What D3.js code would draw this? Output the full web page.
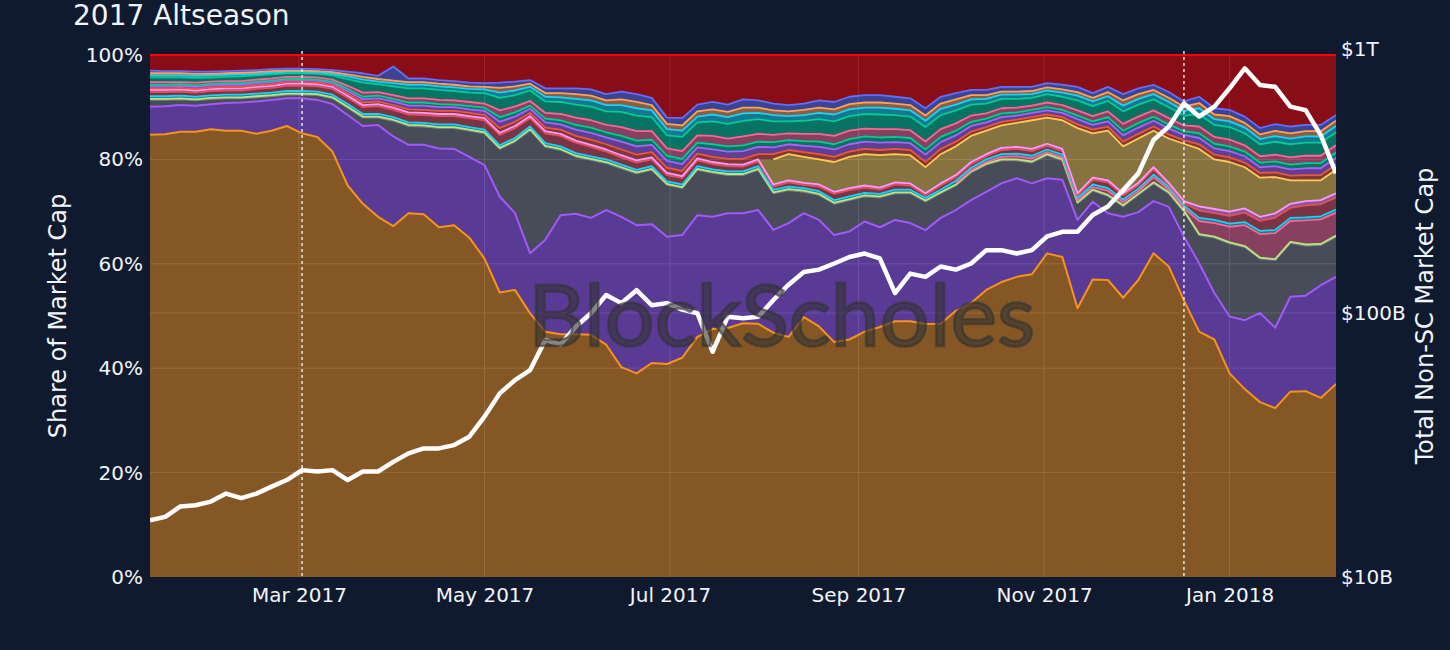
<!DOCTYPE html>
<html><head><meta charset="utf-8">
<script src="https://cdn.jsdelivr.net/npm/d3@7"></script>
<style>
html,body{margin:0;padding:0;background:#101a2e;}
svg{display:block;}
text{font-family:"DejaVu Sans",Verdana,sans-serif;}
</style></head><body>
<svg id="chart" width="1450" height="650"></svg>
<script>
// ---------------- DATA ----------------
const startDate = "2017-01-11";
const stepDays = 5;

const btcShare = [
84.7,84.8,85.3,85.3,85.5,85.5,85.5,84.9,85.5,86.4,
85.0,84.3,81.5,75.0,71.5,69.0,67.2,69.7,69.5,67.0,
67.4,65.0,61.0,54.5,55.0,50.5,47.0,46.5,46.5,46.4,
44.5,40.2,39.0,41.0,40.8,42.0,46.0,47.5,47.7,48.6,
48.5,46.8,46.0,49.8,48.0,45.0,45.5,47.0,47.9,49.0,
49.0,48.5,48.5,51.0,52.5,55.0,56.5,57.5,58.0,62.0,
61.3,51.5,57.0,56.9,53.5,56.9,62.0,59.5,53.0,47.0,
45.5,39.0,36.0,33.5,32.5,35.5,35.6,34.3,37.0];

const ethShare = [
5.4,5.4,5.1,5.0,4.8,5.3,5.4,6.2,5.9,5.3,
6.7,7.1,9.1,13.5,14.9,17.6,17.2,13.1,13.3,15.1,
14.6,15.5,17.9,18.4,14.7,11.5,17.6,22.8,23.1,22.4,
25.8,28.8,28.4,26.6,24.4,23.5,23.3,21.5,22.0,21.1,
21.8,19.7,21.8,19.9,20.4,20.5,20.7,21.1,19.1,19.4,
18.8,18.0,20.3,19.3,19.7,18.8,18.9,18.9,17.4,14.4,
14.8,16.9,14.9,12.8,15.5,13.0,10.0,11.4,12.2,13.1,
8.9,10.9,13.2,17.1,15.5,18.2,18.3,21.6,20.5];

const xrpShare = [
1.3,1.2,1.1,1.0,1.0,0.9,0.8,0.8,0.7,0.7,
0.7,0.9,1.1,1.4,1.6,1.4,3.0,3.6,3.5,3.9,
4.0,5.0,6.1,9.1,13.7,23.6,17.8,12.5,10.9,11.1,
9.0,9.3,9.9,10.4,9.9,9.0,8.7,8.4,7.3,7.3,
7.7,7.0,6.3,4.1,4.8,6.0,6.0,4.8,5.7,5.1,
5.7,5.5,4.7,4.7,5.3,5.2,4.4,3.4,4.0,4.4,
3.7,3.2,2.1,3.3,2.0,3.3,3.4,2.6,4.8,5.4,
10.6,14.0,14.0,10.4,13.0,10.3,9.6,7.7,7.7];

const altLimeShare = [
0.2,0.2,0.2,0.2,0.2,0.2,0.2,0.2,0.2,0.2,
0.2,0.2,0.2,0.2,0.2,0.2,0.2,0.2,0.2,0.2,
0.2,0.2,0.2,0.2,0.2,0.2,0.2,0.2,0.2,0.2,
0.2,0.2,0.2,0.2,0.2,0.2,0.2,0.2,0.2,0.2,
0.2,0.2,0.2,0.2,0.2,0.2,0.2,0.2,0.2,0.2,
0.2,0.2,0.2,0.2,0.2,0.2,0.2,0.2,0.2,0.2,
0.2,0.2,0.2,0.2,0.2,0.2,0.2,0.2,0.2,0.2,
0.2,0.2,0.2,0.2,0.2,0.2,0.2,0.2,0.2];

const adaShare = [
null,null,null,null,null,null,null,null,null,null,
null,null,null,null,null,null,null,null,null,null,
null,null,null,null,null,null,null,null,null,null,
null,null,null,null,null,null,null,null,null,null,
null,null,null,null,null,null,null,null,null,null,
null,null,null,0.2,0.2,0.3,0.5,0.6,0.6,0.4,
0.4,0.3,0.5,0.8,0.6,0.5,1.0,0.5,0.5,2.5,
2.6,3.0,4.0,4.5,5.0,4.0,4.6,4.7,4.4];

const altCyanShare = [
0.5,0.5,0.5,0.5,0.5,0.5,0.5,0.5,0.5,0.5,
0.5,0.5,0.5,0.5,0.5,0.5,0.5,0.5,0.5,0.5,
0.5,0.5,0.5,0.5,0.5,0.5,0.5,0.5,0.5,0.5,
0.5,0.5,0.5,0.5,0.5,0.5,0.5,0.5,0.5,0.5,
0.5,0.5,0.5,0.5,0.5,0.5,0.5,0.5,0.5,0.5,
0.5,0.5,0.5,0.5,0.5,0.5,0.5,0.5,0.5,0.5,
0.5,0.5,0.5,0.5,0.5,0.5,0.5,0.5,0.5,0.6,
0.6,0.6,0.6,0.6,0.6,0.6,0.6,0.6,0.6];

const ltcShare = [
0.8,0.8,0.8,0.8,0.8,0.8,0.8,0.9,0.9,1.0,
1.0,1.0,1.1,1.2,1.3,1.5,1.4,1.5,1.5,1.6,
1.6,1.7,1.8,2.0,1.9,1.6,1.9,2.0,2.0,1.8,
1.5,1.4,1.4,1.3,1.2,1.2,1.1,1.0,1.0,0.9,
0.9,0.6,0.8,0.6,0.9,1.2,1.2,1.0,0.8,1.0,
0.8,0.5,0.8,0.7,0.7,0.6,0.8,0.9,0.9,0.7,
0.7,0.5,0.9,1.1,0.8,0.7,1.0,0.4,0.4,1.4,
1.3,1.5,1.8,1.9,2.4,1.9,2.3,2.3,2.3];

const altMagentaShare = [
0.4,0.4,0.4,0.4,0.4,0.4,0.4,0.4,0.4,0.4,
0.4,0.4,0.4,0.4,0.4,0.4,0.4,0.4,0.4,0.4,
0.4,0.4,0.4,0.4,0.4,0.4,0.4,0.4,0.4,0.4,
0.4,0.4,0.4,0.4,0.4,0.4,0.4,0.4,0.4,0.4,
0.4,0.4,0.4,0.4,0.4,0.4,0.4,0.4,0.4,0.4,
0.4,0.4,0.4,0.4,0.4,0.4,0.4,0.4,0.4,0.4,
0.4,0.4,0.4,0.4,0.4,0.4,0.4,0.4,0.4,0.8,
0.8,0.8,0.8,0.8,0.8,0.8,0.8,0.8,0.8];

const bchShare = [
null,null,null,null,null,null,null,null,null,null,
null,null,null,null,null,null,null,null,null,null,
null,null,null,null,null,null,null,null,null,null,
null,null,null,null,null,null,null,null,null,null,
null,4.8,5.0,5.0,4.8,5.7,6.0,6.0,6.2,5.4,
5.4,5.0,5.6,5.5,5.0,4.5,4.3,4.6,5.5,5.0,
5.5,12.5,8.5,9.5,9.0,8.5,7.0,8.5,11.0,11.0,
9.5,9.5,7.9,7.5,7.0,4.5,4.0,3.8,4.5];

const alt1Share = [
0.3,0.3,0.3,0.3,0.3,0.3,0.3,0.3,0.3,0.3,
0.3,0.3,0.3,0.4,0.5,0.5,0.5,0.6,0.6,0.6,
0.6,0.6,0.6,0.9,0.8,0.6,0.7,0.8,0.9,1.0,
1.0,1.1,1.1,1.0,1.0,1.0,0.9,1.0,1.0,1.1,
1.0,1.0,0.8,0.9,1.0,1.0,1.0,1.0,1.0,1.0,
1.0,1.0,1.0,0.9,0.8,0.7,0.7,0.6,0.6,0.6,
0.6,0.7,0.7,0.8,0.9,0.9,0.8,0.8,0.7,0.9,
0.9,0.9,0.9,0.9,0.9,0.9,1.0,1.0,1.0];

const alt2Share = [
0.3,0.3,0.3,0.3,0.3,0.3,0.3,0.3,0.3,0.2,
0.2,0.2,0.3,0.4,0.5,0.5,0.5,0.6,0.6,0.6,
0.5,0.6,0.6,0.9,0.8,0.6,0.7,0.8,0.9,1.0,
1.0,1.1,1.1,1.0,1.0,1.0,0.9,1.0,1.0,1.1,
1.0,1.0,0.8,0.9,1.0,1.0,1.0,1.0,1.0,1.0,
1.0,1.0,1.0,0.9,0.8,0.7,0.7,0.6,0.6,0.6,
0.6,0.7,0.7,0.8,0.9,0.9,0.8,0.8,0.7,0.9,
0.9,0.9,0.9,0.9,0.9,0.9,1.0,1.0,1.0];

const alt3Share = [
0.4,0.4,0.4,0.4,0.4,0.4,0.4,0.4,0.4,0.4,
0.4,0.4,0.4,0.5,0.6,0.6,0.7,0.7,0.8,0.7,
0.7,0.7,0.8,1.2,1.0,0.8,1.0,1.0,1.2,1.3,
1.3,1.5,1.6,1.4,1.3,1.3,1.2,1.4,1.4,1.5,
1.4,1.3,1.1,1.2,1.4,1.4,1.4,1.4,1.4,1.3,
1.3,1.4,1.3,1.2,1.1,0.9,0.9,0.8,0.8,0.8,
0.8,1.0,0.9,1.0,1.2,1.2,1.1,1.1,1.0,1.2,
1.2,1.2,1.2,1.1,1.2,1.2,1.3,1.3,1.3];

const alt4Share = [
0.4,0.4,0.4,0.4,0.4,0.4,0.4,0.3,0.3,0.3,
0.3,0.3,0.3,0.5,0.6,0.5,0.6,0.7,0.7,0.7,
0.7,0.7,0.7,1.0,0.9,0.7,0.9,0.9,1.1,1.2,
1.2,1.3,1.4,1.3,1.2,1.2,1.1,1.3,1.3,1.4,
1.2,1.2,1.0,1.1,1.2,1.3,1.3,1.2,1.3,1.2,
1.2,1.2,1.2,1.1,1.0,0.9,0.8,0.8,0.7,0.7,
0.8,0.9,0.9,0.9,1.1,1.1,1.0,1.0,0.9,1.1,
1.1,1.1,1.1,1.0,1.1,1.1,1.2,1.2,1.2];

const alt5Share = [
0.5,0.5,0.4,0.5,0.4,0.4,0.4,0.4,0.4,0.4,
0.4,0.4,0.4,0.6,0.8,0.7,0.7,0.8,0.8,0.8,
0.8,0.8,0.8,1.3,1.1,0.9,1.1,1.2,1.4,1.4,
1.4,1.7,1.8,1.6,1.4,1.5,1.4,1.6,1.5,1.7,
1.5,1.4,1.3,1.4,1.5,1.6,1.6,1.5,1.6,1.5,
1.5,1.5,1.5,1.4,1.2,1.0,1.0,0.9,0.8,0.9,
0.9,1.0,1.0,1.1,1.3,1.2,1.2,1.2,1.1,1.3,
1.3,1.3,1.2,1.2,1.3,1.4,1.4,1.4,1.4];

const alt6Share = [
0.9,0.9,0.9,0.9,0.8,0.8,0.9,0.8,0.8,0.7,
0.7,0.7,0.8,1.3,1.9,1.5,1.7,1.9,1.9,1.9,
1.8,1.8,2.0,2.4,2.2,2.0,2.2,2.3,2.5,2.6,
2.6,2.9,3.0,2.7,2.5,2.7,2.5,2.8,2.8,3.0,
2.8,2.6,2.3,2.5,2.8,2.8,2.8,2.8,2.8,2.7,
2.6,2.8,2.7,2.5,2.1,1.9,1.8,1.7,1.5,1.6,
1.6,1.9,1.9,2.0,2.4,2.3,2.1,2.1,1.9,2.4,
2.3,2.4,2.3,2.3,2.5,2.5,2.5,2.5,2.5];

const alt7Share = [
0.4,0.4,0.4,0.4,0.3,0.3,0.3,0.3,0.3,0.2,
0.2,0.2,0.3,0.4,0.5,0.5,0.5,0.5,0.5,0.5,
0.5,0.5,0.5,0.9,0.8,0.6,0.7,0.8,0.9,0.9,
0.9,1.1,1.2,1.0,1.0,1.0,1.0,1.0,1.0,1.1,
1.0,0.9,0.9,1.0,1.0,1.0,1.0,1.0,1.0,1.0,
1.0,1.0,1.0,1.0,0.8,0.7,0.6,0.6,0.6,0.6,
0.6,0.7,0.7,0.8,1.0,0.9,0.8,0.8,0.8,1.0,
0.9,1.0,0.9,0.9,1.0,1.0,1.0,1.0,1.0];

const alt8Share = [
0.5,0.4,0.4,0.4,0.4,0.4,0.4,0.4,0.4,0.4,
0.4,0.4,0.4,0.5,0.7,0.6,2.7,0.7,0.7,0.7,
0.7,0.7,0.7,1.0,0.9,0.7,0.9,0.9,1.1,1.2,
1.2,1.5,1.5,1.4,1.2,1.4,1.3,1.4,1.4,1.6,
1.4,1.3,1.2,1.2,1.4,1.4,1.4,1.4,1.4,1.3,
1.3,1.4,1.3,1.2,1.0,1.0,0.9,0.9,0.8,0.8,
0.9,1.0,0.9,1.0,1.2,1.1,1.0,1.1,1.0,1.2,
1.2,1.2,1.2,1.2,1.3,1.3,1.2,1.2,1.1];

const othersShare = [
3.0,3.1,3.1,3.2,3.2,3.1,3.0,2.9,2.7,2.6,
2.6,2.7,2.9,3.2,3.5,4.0,2.2,4.5,4.5,4.8,
5.0,5.3,5.4,5.3,5.1,4.8,6.4,6.4,6.4,6.6,
7.5,7.0,7.5,8.2,12.0,12.1,9.5,9.0,9.5,8.5,
8.7,9.3,9.6,9.3,8.7,9.0,8.0,7.7,7.7,8.0,
8.3,10.2,8.0,7.3,6.7,6.7,6.1,6.1,6.1,5.4,
5.7,6.1,7.3,6.1,7.5,6.4,5.7,7.1,8.9,8.0,
10.2,10.5,11.8,14.0,13.3,13.7,13.4,13.4,11.5];

// Total non-stablecoin market cap, billions USD
const totalCapB = [
16.4,16.9,18.5,18.7,19.3,20.7,19.9,20.7,22.0,23.3,
25.4,25.1,25.4,23.3,25.1,25.1,27.3,29.4,30.7,30.7,
31.6,34.0,40.5,49.6,55.7,60.8,79.0,76.0,88.7,99.8,
117,109,122,107,109,103,99.8,71.3,96.8,95.5,
96.8,112,128,143,146,154,163,168,161,119,
141,137,150,146,154,173,173,168,173,195,
203,203,235,253,292,338,452,508,622,555,
605,710,845,731,719,605,587,472,338];

const xTickDates = ["2017-03-01","2017-05-01","2017-07-01","2017-09-01","2017-11-01","2018-01-01"];
const xTickLabels = ["Mar 2017","May 2017","Jul 2017","Sep 2017","Nov 2017","Jan 2018"];
const yTickValues = [0,0.2,0.4,0.6,0.8,1];
const yTickLabels = ["0%","20%","40%","60%","80%","100%"];
const y2TickValues = [1e10,1e11,1e12];
const y2TickLabels = ["$10B","$100B","$1T"];
const markerDates = ["2017-03-02","2017-12-17"];

// stacking order bottom -> top
const seriesKeys = ["BTC","ETH","XRP","altLime","ADA","altCyan","LTC","altMagenta","BCH",
  "alt1","alt3","alt2","alt5","alt6","alt4","alt7","alt8","Others"];
const seriesData = {BTC:btcShare,ETH:ethShare,XRP:xrpShare,altLime:altLimeShare,ADA:adaShare,
  altCyan:altCyanShare,LTC:ltcShare,altMagenta:altMagentaShare,BCH:bchShare,
  alt1:alt1Share,alt2:alt2Share,alt3:alt3Share,alt4:alt4Share,alt5:alt5Share,alt6:alt6Share,
  alt7:alt7Share,alt8:alt8Share,Others:othersShare};

// ---------------- STYLE ----------------
const colors = {BTC:"#F7931A",ETH:"#A259FA",XRP:"#7F7E82",altLime:"#B6E880",ADA:"#FF6692",
  altCyan:"#19D3F3",LTC:"#E4505A",altMagenta:"#FF97FF",BCH:"#FECB52",
  alt1:"#EF553B",alt2:"#00CC96",alt3:"#AB63FA",alt4:"#19D3F3",alt5:"#FF6692",alt6:"#00CC96",
  alt7:"#FFA15A",alt8:"#636EFA",Others:"#FF0000"};
const mainKeys = new Set(["BTC","ETH","Others"]);
const W = 1450, H = 650;
const P = {left:150, right:1336, top:55, bottom:577};
const bg = "#101a2e", txt = "#f2f5fa", gridColor = "#34435a";

// ---------------- BUILD ----------------
const parse = d3.utcParse("%Y-%m-%d");
const d0 = parse(startDate);
const dates = btcShare.map((_, i) => d3.utcDay.offset(d0, i * stepDays));
const rows = dates.map((date, i) => {
  const r = {date, i};
  seriesKeys.forEach(k => r[k] = seriesData[k][i]);
  return r;
});

const x = d3.scaleUtc().domain([dates[0], dates[dates.length - 1]]).range([P.left, P.right]);
const y = d3.scaleLinear().domain([0, 1]).range([P.bottom, P.top]);
const y2 = d3.scaleLog().domain([1e10, 1e12]).range([P.bottom, 49]);

const stack = d3.stack().keys(seriesKeys)
  .value((d, k) => d[k] == null ? 0 : d[k])
  .offset(d3.stackOffsetExpand);
const layers = stack(rows);

const svg = d3.select("#chart");
svg.append("rect").attr("width", W).attr("height", H).attr("fill", bg);

const defs = svg.append("defs");
defs.append("clipPath").attr("id", "plotClip").append("rect")
  .attr("x", P.left).attr("y", P.top - 2).attr("width", P.right - P.left).attr("height", P.bottom - P.top + 2);

// grid
const grid = svg.append("g");
yTickValues.filter(v => v > 0 && v < 1).forEach(v => {
  grid.append("line").attr("x1", P.left).attr("x2", P.right).attr("y1", y(v)).attr("y2", y(v))
    .attr("stroke", gridColor).attr("stroke-width", 1);
});
grid.append("line").attr("x1", P.left).attr("x2", P.right).attr("y1", y2(1e11)).attr("y2", y2(1e11))
  .attr("stroke", gridColor).attr("stroke-width", 1);
xTickDates.forEach(s => {
  const xv = x(parse(s));
  grid.append("line").attr("x1", xv).attr("x2", xv).attr("y1", P.top).attr("y2", P.bottom)
    .attr("stroke", gridColor).attr("stroke-width", 1);
});

const plot = svg.append("g").attr("clip-path", "url(#plotClip)");

const area = d3.area()
  .x(d => x(d.data.date)).y0(d => y(d[0])).y1(d => y(d[1]));
plot.append("g").selectAll("path").data(layers).join("path")
  .attr("d", area)
  .attr("fill", l => colors[l.key]).attr("fill-opacity", 0.5)
  .attr("stroke", "none");

const lineG = plot.append("g");
layers.forEach(l => {
  const raw = seriesData[l.key];
  const ln = d3.line().defined((d, j) => raw[j] != null)
    .x(d => x(d.data.date)).y(d => y(d[1]));
  lineG.append("path").attr("d", ln(l))
    .attr("fill", "none").attr("stroke", colors[l.key])
    .attr("stroke-width", mainKeys.has(l.key) ? 2 : 1.8)
    .attr("stroke-linejoin", "round");
});

// total market cap (right log axis)
const capLine = d3.line().x((d, i) => x(dates[i])).y(d => y2(d * 1e9));
plot.append("path").attr("d", capLine(totalCapB))
  .attr("fill", "none").attr("stroke", "#ffffff").attr("stroke-width", 4.5)
  .attr("stroke-linejoin", "round");

// dashed markers
markerDates.forEach(s => {
  const xv = x(parse(s));
  svg.append("line").attr("x1", xv).attr("x2", xv).attr("y1", P.top - 4).attr("y2", P.bottom)
    .attr("stroke", "#ffffff").attr("stroke-width", 1.3).attr("stroke-dasharray", "3,3");
});

// axes
const axL = svg.append("g").attr("transform", `translate(${P.left},0)`)
  .call(d3.axisLeft(y).tickValues(yTickValues).tickFormat((d, i) => yTickLabels[i]).tickSize(0).tickPadding(7));
const axB = svg.append("g").attr("transform", `translate(0,${P.bottom})`)
  .call(d3.axisBottom(x).tickValues(xTickDates.map(parse)).tickFormat((d, i) => xTickLabels[i]).tickSize(0).tickPadding(11));
const axR = svg.append("g").attr("transform", `translate(${P.right},0)`)
  .call(d3.axisRight(y2).tickValues(y2TickValues).tickFormat((d, i) => y2TickLabels[i]).tickSize(0).tickPadding(5));
[axL, axB, axR].forEach(a => {
  a.select(".domain").remove();
  a.selectAll("text").attr("fill", txt).attr("font-size", 20)
    .attr("font-family", '"DejaVu Sans", Verdana, sans-serif');
});

// titles
svg.append("text").attr("x", 73).attr("y", 25).attr("fill", txt).attr("font-size", 28)
  .text("2017 Altseason");
svg.append("text").attr("transform", `translate(66,${(P.top + P.bottom) / 2}) rotate(-90)`)
  .attr("text-anchor", "middle").attr("fill", txt).attr("font-size", 24)
  .text("Share of Market Cap");
svg.append("text").attr("transform", `translate(1433,${(P.top + P.bottom) / 2}) rotate(-90)`)
  .attr("text-anchor", "middle").attr("fill", txt).attr("font-size", 24)
  .text("Total Non-SC Market Cap");

// watermark
svg.append("text").attr("x", 528).attr("y", 346)
  .attr("font-size", 86)
  .attr("textLength", 507).attr("lengthAdjust", "spacingAndGlyphs")
  .attr("fill", "#333333").attr("fill-opacity", 0.6)
  .attr("stroke", "#333333").attr("stroke-opacity", 0.6).attr("stroke-width", 2.5)
  .attr("paint-order", "stroke")
  .style("font-family", "Lato, 'Open Sans', sans-serif")
  .text("BlockScholes");
</script>
</body></html>
